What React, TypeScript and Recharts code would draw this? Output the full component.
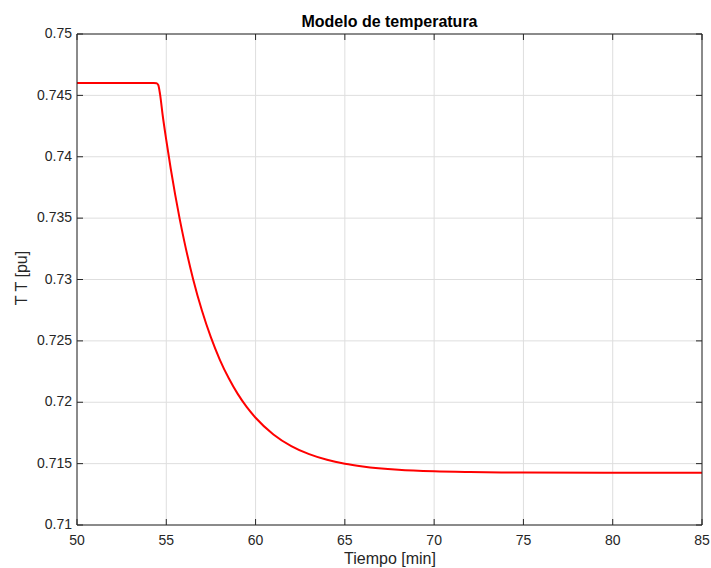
import { LineChart, Line, XAxis, YAxis, CartesianGrid } from "recharts";

// Tiempo [min] y temperatura [pu]
const tiempo = [
  50, 52, 54, 54.3, 54.45, 54.55, 54.65, 54.8, 55.0, 55.25, 55.5, 55.75, 56.0,
  56.5, 57.0, 57.5, 58.0, 58.5, 59.0, 59.5, 60.0, 61.0, 62.0, 63.0, 64.0,
  65.0, 66.0, 68.0, 70.0, 72.0, 75.0, 80.0, 85.0,
];
const temperatura = [
  0.746, 0.746, 0.746, 0.746, 0.74598, 0.74585, 0.7451, 0.74336, 0.74135,
  0.73902, 0.73689, 0.73494, 0.73317, 0.73005, 0.72745, 0.72528, 0.72346,
  0.72195, 0.72068, 0.71962, 0.71874, 0.71738, 0.71643, 0.71577, 0.71531,
  0.71499, 0.71477, 0.7145, 0.71437, 0.71431, 0.71427, 0.71425, 0.71425,
];

const xTicks = [50, 55, 60, 65, 70, 75, 80, 85];
const yTicks = [0.71, 0.715, 0.72, 0.725, 0.73, 0.735, 0.74, 0.745, 0.75];

const data = tiempo.map((t, i) => ({ t, T: temperatura[i] }));

const AXIS = "#262626";
const FONT = "'Liberation Sans', Arial, Helvetica, sans-serif";
const TICK_LEN = 6;

// ticks hacia dentro, como en MATLAB
const BottomTick = ({ x, y, payload }: any) => (
  <g>
    <line x1={x} x2={x} y1={y} y2={y - TICK_LEN} stroke={AXIS} />
    <text
      x={x}
      y={y + 10}
      dy="0.71em"
      textAnchor="middle"
      fill={AXIS}
      fontSize={14}
      fontFamily={FONT}
    >
      {payload.value}
    </text>
  </g>
);

const LeftTick = ({ x, y, payload }: any) => (
  <g>
    <line x1={x} x2={x + TICK_LEN} y1={y} y2={y} stroke={AXIS} />
    <text
      x={x - 5}
      y={y}
      dy="0.3em"
      textAnchor="end"
      fill={AXIS}
      fontSize={14}
      fontFamily={FONT}
    >
      {String(payload.value)}
    </text>
  </g>
);

const TopTick = ({ x, y }: any) => (
  <line x1={x} x2={x} y1={y} y2={y + TICK_LEN} stroke={AXIS} />
);

const RightTick = ({ x, y }: any) => (
  <line x1={x} x2={x - TICK_LEN} y1={y} y2={y} stroke={AXIS} />
);

export default function App() {
  return (
    <div
      style={{
        position: "absolute",
        left: 0,
        top: 0,
        width: 711,
        height: 568,
        background: "#fff",
      }}
    >
      <LineChart
        width={711}
        height={568}
        data={data}
        margin={{ top: 33, right: 8, bottom: 0, left: 0 }}
      >
        <CartesianGrid stroke="#dedede" strokeWidth={1} />
        <XAxis
          dataKey="t"
          type="number"
          domain={[50, 85]}
          ticks={xTicks}
          allowDataOverflow
          interval={0}
          height={43}
          tickSize={0}
          tickMargin={0}
          tickLine={false}
          tick={<BottomTick />}
          axisLine={{ stroke: AXIS }}
        />
        <XAxis
          xAxisId="top"
          orientation="top"
          dataKey="t"
          type="number"
          domain={[50, 85]}
          ticks={xTicks}
          allowDataOverflow
          interval={0}
          height={1}
          tickSize={0}
          tickMargin={0}
          tickLine={false}
          tick={<TopTick />}
          axisLine={{ stroke: AXIS }}
        />
        <YAxis
          type="number"
          domain={[0.71, 0.75]}
          ticks={yTicks}
          allowDataOverflow
          interval={0}
          width={77}
          tickSize={0}
          tickMargin={0}
          tickLine={false}
          tick={<LeftTick />}
          axisLine={{ stroke: AXIS }}
        />
        <YAxis
          yAxisId="right"
          orientation="right"
          dataKey="T"
          type="number"
          domain={[0.71, 0.75]}
          ticks={yTicks}
          allowDataOverflow
          interval={0}
          width={1}
          tickSize={0}
          tickMargin={0}
          tickLine={false}
          tick={<RightTick />}
          axisLine={{ stroke: AXIS }}
        />
        <Line
          type="monotone"
          dataKey="T"
          stroke="#ff0000"
          strokeWidth={2}
          dot={false}
          isAnimationActive={false}
        />
      </LineChart>
      <svg
        width={711}
        height={568}
        style={{ position: "absolute", left: 0, top: 0, pointerEvents: "none" }}
      >
        <text
          x={389.5}
          y={27}
          textAnchor="middle"
          fontFamily={FONT}
          fontSize={16}
          fontWeight="bold"
          fill="#000"
        >
          Modelo de temperatura
        </text>
        <text
          x={390}
          y={564}
          textAnchor="middle"
          fontFamily={FONT}
          fontSize={16}
          fill={AXIS}
        >
          Tiempo [min]
        </text>
        <text
          transform="translate(27,278) rotate(-90)"
          textAnchor="middle"
          fontFamily={FONT}
          fontSize={16}
          fill={AXIS}
        >
          T T [pu]
        </text>
      </svg>
    </div>
  );
}
